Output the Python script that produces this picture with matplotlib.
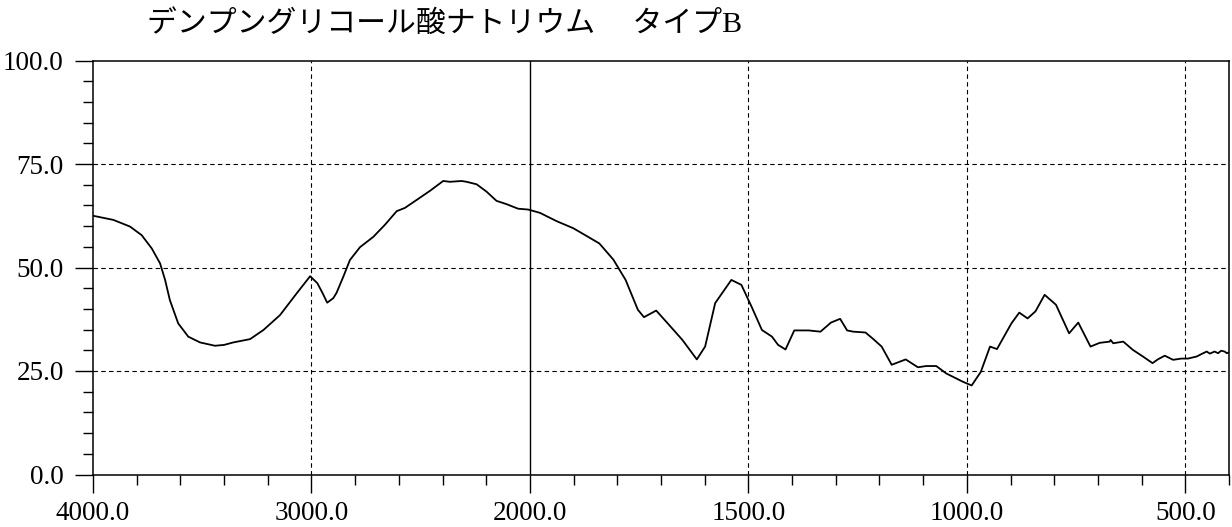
import numpy as np
import matplotlib
matplotlib.use('Agg')
import matplotlib.pyplot as plt

# spectrum (wavenumber cm-1, %T)
wavenumber = [4000, 3907, 3831, 3777, 3731, 3693, 3670, 3648, 3610, 3564, 3510, 3442,
              3400, 3358, 3281, 3220, 3144, 3067, 3006, 2973, 2949, 2928, 2900, 2885,
              2854, 2824, 2778, 2717, 2664, 2610, 2572, 2519, 2458, 2397, 2366, 2313,
              2290, 2244, 2198, 2153, 2107, 2054, 2008, 1977, 1939, 1901, 1870, 1841,
              1809, 1781, 1753, 1739, 1711, 1688, 1651, 1618, 1599, 1576, 1539, 1516,
              1493, 1469, 1446, 1432, 1415, 1395, 1362, 1335, 1311, 1290, 1274, 1260,
              1232, 1214, 1195, 1172, 1140, 1112, 1093, 1070, 1047, 1009, 989, 968,
              947, 931, 898, 880, 861, 843, 822, 796, 766, 745, 717, 696, 673, 671,
              665, 642, 620, 597, 575, 563, 547, 528, 509, 494, 474, 459, 451, 444,
              433, 425, 418, 410, 405, 400]
transmittance = [62.5, 61.5, 59.9, 57.8, 54.6, 51.0, 47.0, 42.1, 36.5, 33.3, 31.9, 31.1,
                 31.3, 31.9, 32.7, 34.9, 38.5, 43.8, 47.9, 46.2, 43.8, 41.5, 42.6, 43.9,
                 47.8, 51.8, 54.9, 57.4, 60.3, 63.6, 64.4, 66.3, 68.5, 70.9, 70.7, 70.9,
                 70.7, 70.1, 68.3, 66.1, 65.3, 64.2, 64.0, 63.2, 61.2, 59.5, 57.6, 55.8,
                 51.9, 47.0, 39.8, 38.0, 39.6, 36.9, 32.5, 27.8, 30.9, 41.4, 47.0, 45.8,
                 40.6, 34.9, 33.3, 31.3, 30.2, 34.8, 34.8, 34.5, 36.7, 37.6, 34.8, 34.5,
                 34.3, 32.7, 30.9, 26.5, 27.8, 25.9, 26.2, 26.2, 24.4, 22.4, 21.5, 24.8,
                 30.9, 30.3, 36.5, 39.1, 37.7, 39.4, 43.4, 41.0, 34.1, 36.7, 30.9, 31.8,
                 32.1, 32.5, 31.7, 32.1, 30.1, 28.5, 26.9, 27.8, 28.7, 27.7, 28.0, 28.0,
                 28.5, 29.3, 29.7, 29.2, 29.7, 29.3, 29.9, 29.7, 29.3, 29.5]

major_x = [4000, 3000, 2000, 1500, 1000, 500]
minor_x = list(range(3800, 2000, -200)) + list(range(1900, 399, -100))
major_y = [0, 25, 50, 75, 100]
minor_y = list(range(0, 101, 5))
grid_x = [3000, 1500, 1000, 500]
grid_y = [25, 50, 75]

title = 'デンプングリコール酸ナトリウム\u3000 タイプB'


# x axis is compressed by 2 above 2000 cm-1
def fwd(x):
    x = np.asarray(x, dtype=float)
    return np.where(x >= 2000, x / 2 + 1000, x)


def inv(u):
    u = np.asarray(u, dtype=float)
    return np.where(u >= 2000, (u - 1000) * 2, u)


fig = plt.figure(figsize=(12.32, 5.27), dpi=100)
ax = fig.add_axes([93 / 1232, 1 - 474.5 / 527, 1136 / 1232, 414 / 527])
ax.set_xscale('function', functions=(fwd, inv))
ax.set_xlim(4000, 400)
ax.set_ylim(0, 100)

ax.plot(wavenumber, transmittance, color='black', lw=1.3)

for g in grid_x:
    ax.axvline(g, color='black', lw=0.8, ls=(0, (4, 3)))
for g in grid_y:
    ax.axhline(g, color='black', lw=0.8, ls=(0, (4, 3)))
ax.axvline(2000, color='black', lw=1.0)

ax.set_xticks(major_x)
ax.set_xticklabels(['%.1f' % v for v in major_x])
ax.set_xticks(minor_x, minor=True)
ax.set_yticks(major_y)
ax.set_yticklabels(['%.1f' % v for v in major_y])
ax.set_yticks(minor_y, minor=True)

for s in ax.spines.values():
    s.set_linewidth(1.1)
ax.tick_params(which='major', direction='out', length=13, width=1.0,
               labelsize=19.5, pad=6)
ax.tick_params(which='minor', direction='out', length=7, width=1.0)
ax.tick_params(axis='y', which='major', pad=8)
for lab in ax.get_xticklabels() + ax.get_yticklabels():
    lab.set_fontfamily('Liberation Serif')

fig.text(147 / 1232, 1 - 24 / 527, title, ha='left', va='center', fontsize=21.5,
         family=['Liberation Serif', 'Noto Sans CJK JP'])

plt.savefig('out.png', dpi=100)
plt.close()
